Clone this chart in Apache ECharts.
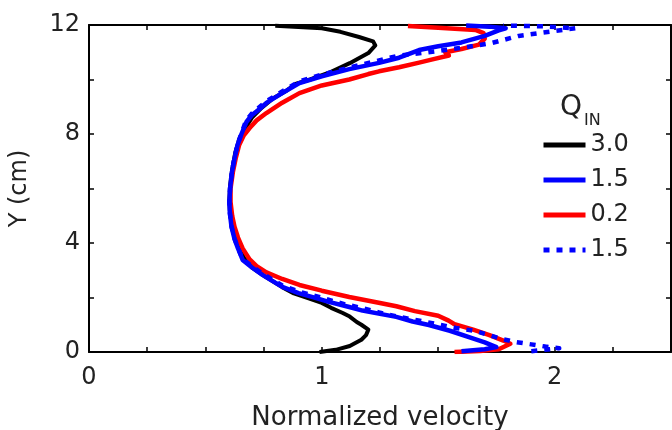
<!DOCTYPE html>
<html>
<head>
<meta charset="utf-8">
<script src="https://cdn.jsdelivr.net/npm/echarts@6/dist/echarts.min.js"></script>
<style>
  html, body { margin: 0; padding: 0; background: #fff; }
  #chart { width: 672px; height: 430px; }
</style>
</head>
<body>
<div id="chart"></div>
<script>
// tick labels
const xTickLabels = [0, 1, 2]
const yTickLabels = [0, 4, 8, 12]

// legend names (Q_IN)
const seriesNames = ['3.0', '1.5', '0.2', '1.5 ']

// Q_IN = 3.0 (black)
const blackV = [0.99, 1.06, 1.12, 1.17, 1.19, 1.20, 1.17, 1.15, 1.12, 1.09, 1.04, 1.00, 0.95, 0.88, 0.83, 0.76, 0.70, 0.67, 0.645, 0.625, 0.612, 0.605, 0.603, 0.606, 0.615, 0.628, 0.645, 0.67, 0.70, 0.74, 0.79, 0.85, 0.89, 0.95, 1.04, 1.12, 1.20, 1.23, 1.22, 1.16, 1.08, 1.00, 0.90, 0.80]
const blackY = [0.00, 0.08, 0.22, 0.45, 0.62, 0.82, 1.00, 1.10, 1.30, 1.43, 1.62, 1.80, 1.95, 2.15, 2.38, 2.75, 3.10, 3.40, 3.80, 4.20, 4.70, 5.20, 5.60, 6.10, 6.70, 7.30, 7.80, 8.20, 8.60, 8.95, 9.30, 9.60, 9.85, 10.00, 10.28, 10.60, 10.97, 11.25, 11.40, 11.56, 11.75, 11.88, 11.93, 11.97]

// Q_IN = 1.5 (blue solid)
const blueV = [1.60, 1.70, 1.75, 1.70, 1.645, 1.55, 1.46, 1.39, 1.32, 1.25, 1.175, 1.118, 1.03, 0.976, 0.90, 0.83, 0.745, 0.70, 0.66, 0.64, 0.625, 0.612, 0.605, 0.603, 0.606, 0.614, 0.625, 0.638, 0.655, 0.677, 0.70, 0.73, 0.762, 0.83, 0.904, 1.00, 1.118, 1.246, 1.332, 1.418, 1.50, 1.60, 1.70, 1.76, 1.79, 1.72, 1.62]
const blueY = [0.03, 0.10, 0.18, 0.35, 0.51, 0.78, 0.99, 1.12, 1.29, 1.40, 1.52, 1.65, 1.84, 1.98, 2.16, 2.39, 2.83, 3.10, 3.38, 3.80, 4.15, 4.60, 5.10, 5.50, 6.00, 6.60, 7.10, 7.60, 8.00, 8.45, 8.70, 8.90, 9.14, 9.50, 9.87, 10.12, 10.38, 10.61, 10.80, 11.08, 11.22, 11.36, 11.60, 11.80, 11.88, 11.94, 11.98]

// Q_IN = 0.2 (red)
const redV = [1.57, 1.68, 1.76, 1.81, 1.78, 1.72, 1.65, 1.57, 1.545, 1.50, 1.40, 1.32, 1.25, 1.118, 1.00, 0.904, 0.83, 0.762, 0.72, 0.69, 0.66, 0.64, 0.625, 0.615, 0.608, 0.608, 0.618, 0.63, 0.645, 0.665, 0.69, 0.72, 0.762, 0.83, 0.904, 1.00, 1.118, 1.20, 1.246, 1.332, 1.418, 1.48, 1.546, 1.53, 1.60, 1.675, 1.70, 1.695, 1.66, 1.50, 1.37]
const redY = [0.00, 0.04, 0.10, 0.30, 0.42, 0.62, 0.82, 1.02, 1.15, 1.33, 1.50, 1.68, 1.80, 2.02, 2.25, 2.46, 2.68, 2.92, 3.15, 3.40, 3.80, 4.20, 4.60, 5.00, 5.50, 6.00, 6.60, 7.10, 7.60, 7.95, 8.22, 8.50, 8.77, 9.15, 9.50, 9.78, 10.00, 10.20, 10.30, 10.45, 10.62, 10.75, 10.88, 11.00, 11.12, 11.28, 11.50, 11.70, 11.82, 11.90, 11.96]

// Q_IN = 1.5 (blue dotted)
const dotV = [1.90, 2.02, 1.96, 1.90, 1.83, 1.773, 1.66, 1.576, 1.537, 1.45, 1.332, 1.246, 1.175, 1.10, 1.00, 0.90, 0.83, 0.745, 0.70, 0.66, 0.64, 0.625, 0.612, 0.605, 0.603, 0.606, 0.614, 0.625, 0.638, 0.655, 0.675, 0.70, 0.73, 0.762, 0.83, 0.904, 1.00, 1.118, 1.246, 1.332, 1.43, 1.60, 1.73, 1.846, 2.00, 2.09, 1.95, 1.78]
const dotY = [0.03, 0.14, 0.20, 0.28, 0.37, 0.48, 0.77, 0.88, 0.95, 1.10, 1.29, 1.45, 1.61, 1.75, 1.99, 2.22, 2.44, 2.88, 3.15, 3.42, 3.82, 4.17, 4.62, 5.12, 5.52, 6.02, 6.62, 7.12, 7.62, 8.03, 8.50, 8.75, 8.97, 9.20, 9.56, 9.93, 10.18, 10.44, 10.70, 10.88, 10.97, 11.16, 11.34, 11.60, 11.78, 11.88, 11.95, 11.98]

const toPairs = (vs, ys) => vs.map((v, i) => [v, ys[i]])

const font = 'DejaVu Sans'
const textColor = '#222'

const chart = echarts.init(document.getElementById('chart'), null, { renderer: 'canvas' })

const axisBase = {
  axisLine: { show: true, onZero: false, lineStyle: { color: '#000', width: 2 } },
  axisTick: { show: true, inside: true, length: 5, lineStyle: { color: '#000', width: 1.5 } },
  splitLine: { show: false }
}

const makeLine = (name, data, color, width, type, z) => ({
  name,
  type: 'line',
  data,
  xAxisIndex: 0,
  yAxisIndex: 0,
  showSymbol: false,
  symbol: 'none',
  smooth: false,
  z,
  lineStyle: { color, width, type, cap: 'butt', join: 'round' },
  itemStyle: { color }
})

const option = {
  animation: false,
  backgroundColor: '#fff',
  grid: { left: 89, top: 25, right: 1, bottom: 78, containLabel: false, outerBoundsMode: 'none' },
  xAxis: [
    {
      ...axisBase,
      type: 'value',
      position: 'bottom',
      min: 0,
      max: 2.5,
      interval: 0.25,
      name: 'Normalized velocity',
      nameLocation: 'middle',
      nameGap: 53,
      nameTextStyle: { fontFamily: font, fontSize: 26, color: textColor },
      axisLabel: {
        margin: 14,
        fontFamily: font,
        fontSize: 24,
        color: textColor,
        formatter: v => (xTickLabels.some(t => Math.abs(t - v) < 1e-6) ? String(Math.round(v)) : '')
      }
    },
    {
      ...axisBase,
      type: 'value',
      position: 'top',
      min: 0,
      max: 2.5,
      interval: 0.25,
      axisLabel: { show: false }
    }
  ],
  yAxis: [
    {
      ...axisBase,
      type: 'value',
      position: 'left',
      min: 0,
      max: 12,
      interval: 2,
      name: 'Y (cm)',
      nameLocation: 'middle',
      nameGap: 57,
      nameTextStyle: { fontFamily: font, fontSize: 24, color: textColor },
      axisLabel: {
        margin: 9,
        fontFamily: font,
        fontSize: 24,
        color: textColor,
        formatter: v => (yTickLabels.includes(Math.round(v)) && Math.abs(v - Math.round(v)) < 1e-6 ? String(Math.round(v)) : '')
      }
    },
    {
      ...axisBase,
      type: 'value',
      position: 'right',
      min: 0,
      max: 12,
      interval: 2,
      axisLabel: { show: false }
    }
  ],
  legend: {
    orient: 'vertical',
    left: 541,
    top: 133,
    padding: 0,
    itemWidth: 42,
    itemHeight: 24,
    itemGap: 11,
    data: seriesNames,
    formatter: n => n.trim(),
    itemStyle: { opacity: 0, borderWidth: 0 },
    lineStyle: { width: 5 },
    textStyle: { fontFamily: font, fontSize: 24, color: textColor }
  },
  graphic: [
    { type: 'text', left: 560, top: 94, style: { text: 'Q', fontFamily: font, fontSize: 28, fill: textColor } },
    { type: 'text', left: 584, top: 113, style: { text: 'IN', fontFamily: font, fontSize: 16, fill: textColor } }
  ],
  series: [
    makeLine(seriesNames[0], toPairs(blackV, blackY), '#000000', 4, 'solid', 2),
    makeLine(seriesNames[1], toPairs(blueV, blueY), '#0000ff', 4.5, 'solid', 4),
    makeLine(seriesNames[2], toPairs(redV, redY), '#ff0000', 4.5, 'solid', 3),
    makeLine(seriesNames[3], toPairs(dotV, dotY), '#0000ff', 4.5, [6, 7], 5)
  ]
}

chart.setOption(option)
</script>
</body>
</html>
